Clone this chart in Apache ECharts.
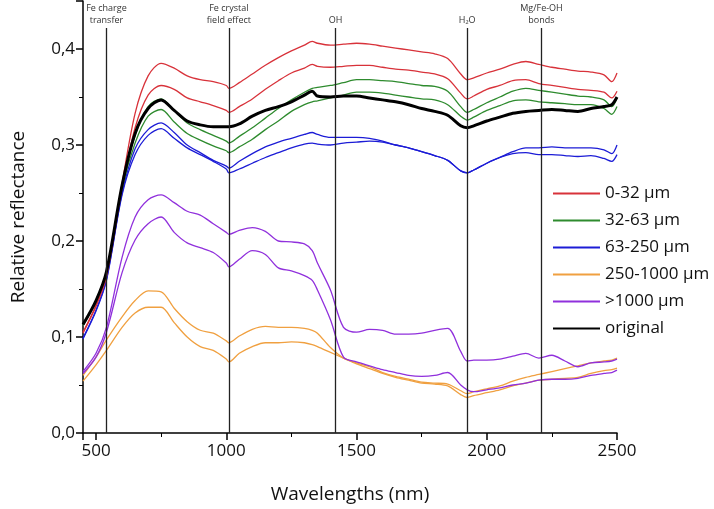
<!DOCTYPE html>
<html>
<head>
<meta charset="utf-8">
<script src="https://cdn.jsdelivr.net/npm/echarts@6/dist/echarts.min.js"></script>
<style>
html, body { margin: 0; padding: 0; background: #fff; }
#chart { width: 714px; height: 509px; }
</style>
</head>
<body>
<div id="chart"></div>
<script>
// wavelengths (nm) shared by every spectrum
const wavelengths = [450, 500, 540, 600, 650, 700, 750, 800, 850, 900, 950, 1000, 1010, 1050, 1100, 1150, 1200, 1250, 1300, 1330, 1350, 1400, 1450, 1500, 1550, 1600, 1650, 1700, 1750, 1800, 1850, 1900, 1925, 1950, 2000, 2050, 2100, 2150, 2200, 2250, 2300, 2350, 2400, 2450, 2480, 2500]

// 0-32 µm (two spectra)
const red1 = [0.105, 0.133, 0.165, 0.260, 0.333, 0.372, 0.385, 0.380, 0.372, 0.368, 0.366, 0.362, 0.359, 0.365, 0.374, 0.383, 0.391, 0.398, 0.404, 0.408, 0.406, 0.404, 0.405, 0.406, 0.405, 0.403, 0.401, 0.399, 0.397, 0.395, 0.390, 0.374, 0.368, 0.370, 0.375, 0.379, 0.384, 0.387, 0.384, 0.381, 0.379, 0.377, 0.376, 0.373, 0.366, 0.375]
const red2 = [0.104, 0.132, 0.163, 0.256, 0.318, 0.352, 0.362, 0.358, 0.349, 0.345, 0.341, 0.336, 0.334, 0.340, 0.348, 0.358, 0.367, 0.375, 0.380, 0.384, 0.382, 0.381, 0.382, 0.383, 0.383, 0.381, 0.379, 0.378, 0.376, 0.374, 0.369, 0.354, 0.348, 0.351, 0.358, 0.362, 0.367, 0.368, 0.364, 0.362, 0.360, 0.358, 0.357, 0.355, 0.349, 0.356]
// 32-63 µm
const green1 = [0.113, 0.138, 0.168, 0.258, 0.310, 0.340, 0.348, 0.336, 0.323, 0.316, 0.310, 0.304, 0.302, 0.309, 0.318, 0.328, 0.338, 0.347, 0.355, 0.359, 0.360, 0.362, 0.365, 0.368, 0.368, 0.367, 0.366, 0.364, 0.362, 0.361, 0.356, 0.340, 0.334, 0.337, 0.344, 0.350, 0.356, 0.359, 0.357, 0.355, 0.353, 0.351, 0.350, 0.347, 0.340, 0.349]
const green2 = [0.112, 0.137, 0.167, 0.255, 0.302, 0.330, 0.337, 0.324, 0.312, 0.305, 0.299, 0.294, 0.292, 0.298, 0.306, 0.316, 0.325, 0.335, 0.342, 0.345, 0.346, 0.349, 0.352, 0.355, 0.355, 0.354, 0.352, 0.350, 0.348, 0.347, 0.342, 0.330, 0.326, 0.329, 0.336, 0.341, 0.346, 0.347, 0.345, 0.344, 0.343, 0.342, 0.342, 0.338, 0.332, 0.340]
// 63-250 µm
const blue1 = [0.099, 0.128, 0.160, 0.250, 0.296, 0.316, 0.323, 0.313, 0.300, 0.292, 0.284, 0.278, 0.276, 0.283, 0.291, 0.298, 0.303, 0.307, 0.311, 0.313, 0.311, 0.308, 0.308, 0.308, 0.307, 0.304, 0.300, 0.297, 0.293, 0.289, 0.284, 0.273, 0.271, 0.274, 0.281, 0.287, 0.293, 0.297, 0.297, 0.298, 0.297, 0.297, 0.297, 0.295, 0.291, 0.300]
const blue2 = [0.098, 0.127, 0.159, 0.248, 0.290, 0.310, 0.317, 0.307, 0.297, 0.290, 0.283, 0.275, 0.271, 0.275, 0.281, 0.287, 0.292, 0.297, 0.301, 0.302, 0.301, 0.300, 0.302, 0.303, 0.304, 0.303, 0.300, 0.297, 0.293, 0.289, 0.284, 0.273, 0.271, 0.274, 0.281, 0.287, 0.291, 0.292, 0.290, 0.290, 0.289, 0.288, 0.289, 0.286, 0.283, 0.290]
// 250-1000 µm
const orange1 = [0.060, 0.079, 0.097, 0.121, 0.138, 0.148, 0.147, 0.130, 0.116, 0.107, 0.104, 0.096, 0.094, 0.101, 0.108, 0.111, 0.110, 0.110, 0.109, 0.107, 0.104, 0.089, 0.078, 0.073, 0.069, 0.063, 0.059, 0.056, 0.053, 0.052, 0.051, 0.044, 0.041, 0.043, 0.046, 0.049, 0.054, 0.058, 0.061, 0.064, 0.067, 0.070, 0.073, 0.075, 0.076, 0.078]
const orange2 = [0.054, 0.071, 0.086, 0.110, 0.125, 0.131, 0.131, 0.115, 0.100, 0.090, 0.086, 0.077, 0.074, 0.083, 0.090, 0.094, 0.094, 0.095, 0.094, 0.092, 0.090, 0.084, 0.078, 0.072, 0.067, 0.062, 0.058, 0.055, 0.052, 0.051, 0.049, 0.040, 0.037, 0.039, 0.042, 0.045, 0.049, 0.052, 0.055, 0.056, 0.057, 0.058, 0.062, 0.065, 0.066, 0.0675]
// >1000 µm
const purple1 = [0.064, 0.083, 0.110, 0.183, 0.225, 0.243, 0.248, 0.240, 0.231, 0.227, 0.218, 0.209, 0.207, 0.211, 0.214, 0.210, 0.200, 0.199, 0.197, 0.190, 0.177, 0.149, 0.110, 0.105, 0.108, 0.107, 0.103, 0.103, 0.104, 0.107, 0.109, 0.085, 0.075, 0.076, 0.076, 0.077, 0.080, 0.083, 0.078, 0.081, 0.075, 0.069, 0.073, 0.074, 0.075, 0.077]
const purple2 = [0.062, 0.079, 0.105, 0.167, 0.201, 0.218, 0.225, 0.209, 0.198, 0.193, 0.188, 0.177, 0.173, 0.181, 0.190, 0.186, 0.172, 0.169, 0.164, 0.159, 0.149, 0.118, 0.079, 0.074, 0.070, 0.066, 0.063, 0.060, 0.059, 0.060, 0.063, 0.050, 0.045, 0.043, 0.045, 0.047, 0.050, 0.052, 0.055, 0.056, 0.056, 0.057, 0.060, 0.062, 0.063, 0.0655]
// original sample
const original = [0.113, 0.138, 0.168, 0.258, 0.312, 0.338, 0.347, 0.336, 0.325, 0.321, 0.319, 0.319, 0.319, 0.322, 0.330, 0.336, 0.340, 0.345, 0.352, 0.356, 0.351, 0.350, 0.351, 0.351, 0.349, 0.347, 0.345, 0.342, 0.338, 0.335, 0.331, 0.320, 0.318, 0.320, 0.325, 0.329, 0.333, 0.335, 0.336, 0.337, 0.336, 0.335, 0.338, 0.340, 0.342, 0.350]

const legendNames = ['0-32 µm', '32-63 µm', '63-250 µm', '250-1000 µm', '>1000 µm', 'original']
const colors = ['#d8323a', '#2e8b2e', '#1c1cd6', '#f0a040', '#9030dc', '#000000']

// absorption features marked with vertical lines
const featurePositions = [540, 1010, 1420, 1925, 2210]
const featureLabels = ['Fe charge\ntransfer', 'Fe crystal\nfield effect', 'OH', 'H₂O', 'Mg/Fe-OH\nbonds']
const featureTop = 0.422

const font = 'Open Sans'

function pairs (ys) {
  return wavelengths.map((w, i) => [w, ys[i]])
}

function spectrum (name, color, ys, width) {
  return {
    name: name,
    type: 'line',
    data: pairs(ys),
    symbol: 'none',
    smooth: 0.3,
    color: color,
    lineStyle: { color: color, width: width || 1.3 },
    emphasis: { disabled: true }
  }
}

const series = [
  spectrum(legendNames[3], colors[3], orange1),
  spectrum(legendNames[3], colors[3], orange2),
  spectrum(legendNames[4], colors[4], purple1),
  spectrum(legendNames[4], colors[4], purple2),
  spectrum(legendNames[2], colors[2], blue1),
  spectrum(legendNames[2], colors[2], blue2),
  spectrum(legendNames[1], colors[1], green1),
  spectrum(legendNames[1], colors[1], green2),
  spectrum(legendNames[0], colors[0], red1),
  spectrum(legendNames[0], colors[0], red2),
  spectrum(legendNames[5], colors[5], original, 3)
]

series[series.length - 1].markLine = {
  silent: true,
  symbol: 'none',
  animation: false,
  lineStyle: { color: '#222', width: 1.3, type: 'solid' },
  label: {
    show: true,
    position: 'end',
    distance: 1,
    color: '#333',
    fontFamily: font,
    fontSize: 9,
    lineHeight: 12
  },
  data: featurePositions.map((x, i) => [
    { coord: [x, 0], label: { formatter: featureLabels[i] } },
    { coord: [x, featureTop] }
  ])
}

const myChart = echarts.init(document.getElementById('chart'))
myChart.setOption({
  animation: false,
  textStyle: { fontFamily: font },
  grid: {
    left: 83,
    right: 97,
    top: 1,
    bottom: 76
  },
  legend: {
    data: legendNames,
    orient: 'vertical',
    left: 547,
    top: 180,
    itemWidth: 47,
    itemHeight: 14,
    itemGap: 10,
    itemStyle: { opacity: 0 },
    textStyle: { color: '#111', fontSize: 17, fontFamily: font }
  },
  xAxis: {
    type: 'value',
    min: 450,
    max: 2500,
    splitNumber: 4,
    name: 'Wavelengths (nm)',
    nameLocation: 'middle',
    nameGap: 52,
    nameTextStyle: { fontSize: 19, color: '#111', fontFamily: font },
    axisLine: { lineStyle: { color: '#000', width: 1.5 } },
    axisTick: { inside: false, length: 7, lineStyle: { color: '#000', width: 1.5 } },
    minorTick: { show: true, splitNumber: 2, length: 4, lineStyle: { color: '#000', width: 1 } },
    splitLine: { show: false },
    axisLabel: {
      fontSize: 17,
      color: '#111',
      margin: 10,
      formatter: v => (v % 500 === 0 ? String(v) : '')
    }
  },
  yAxis: {
    type: 'value',
    min: 0,
    max: 0.45,
    interval: 0.1,
    name: 'Relative reflectance',
    nameLocation: 'middle',
    nameGap: 55,
    nameTextStyle: { fontSize: 19, color: '#111', fontFamily: font },
    axisLine: { show: true, lineStyle: { color: '#000', width: 1.5 } },
    axisTick: { show: true, length: 7, lineStyle: { color: '#000', width: 1.5 } },
    minorTick: { show: true, splitNumber: 2, length: 4, lineStyle: { color: '#000', width: 1 } },
    splitLine: { show: false },
    axisLabel: {
      fontSize: 17,
      color: '#111',
      margin: 8,
      formatter: v => (Math.abs(v * 10 - Math.round(v * 10)) < 1e-6 ? v.toFixed(1).replace('.', ',') : '')
    }
  },
  series: series
})
</script>
</body>
</html>
